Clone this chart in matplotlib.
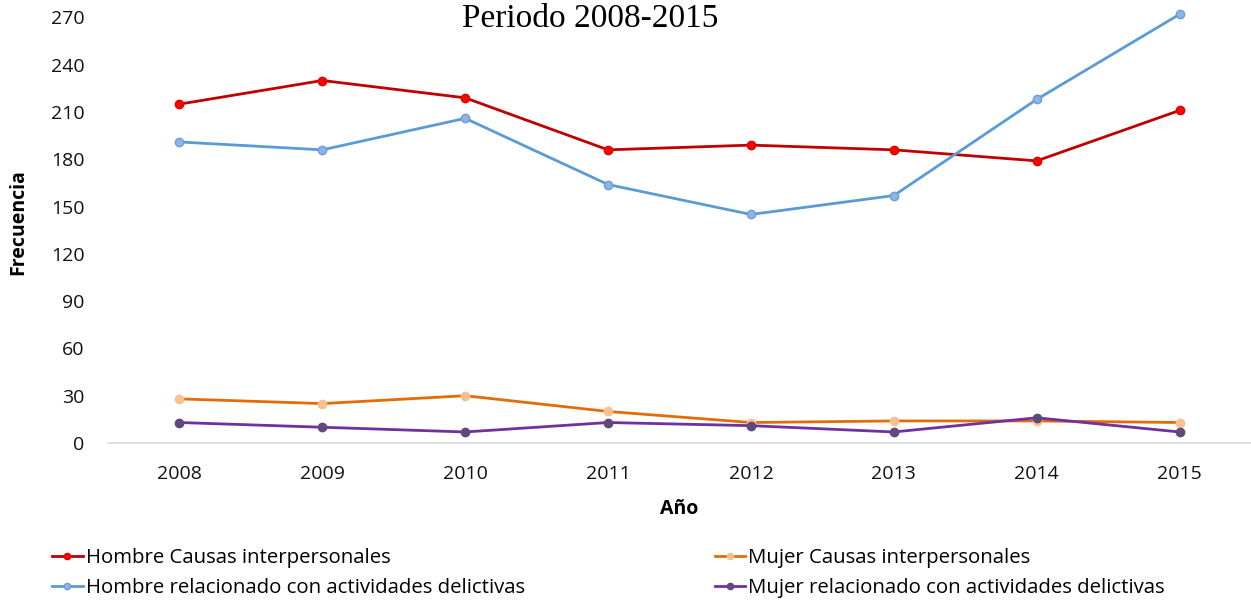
import matplotlib.pyplot as plt

years = ["2008", "2009", "2010", "2011", "2012", "2013", "2014", "2015"]
hombre_inter = [215, 230, 219, 186, 189, 186, 179, 211]
mujer_inter = [28, 25, 30, 20, 13, 14, 14, 13]
hombre_delict = [191, 186, 206, 164, 145, 157, 218, 272]
mujer_delict = [13, 10, 7, 13, 11, 7, 16, 7]
yticks = [0, 30, 60, 90, 120, 150, 180, 210, 240, 270]

plt.rcParams['font.family'] = ['Open Sans', 'DejaVu Sans']

fig = plt.figure(figsize=(12.51, 6), dpi=100)
ax = fig.add_axes([108 / 1251, 1 - 443 / 600, 1 - 108 / 1251, (443 - 8) / 600])

x = range(len(years))
lw = 2.0
ms = 6
l1, = ax.plot(x, hombre_inter, color="#C00000", lw=lw, marker="o", ms=ms,
              mfc="#FF0000", mec="#E00000", label="Hombre Causas interpersonales")
l3, = ax.plot(x, hombre_delict, color="#5B9BD5", lw=lw, marker="o", ms=ms,
              mfc="#8EB4E3", mec="#6A9FD8", label="Hombre relacionado con actividades delictivas")
l2, = ax.plot(x, mujer_inter, color="#E36C09", lw=lw, marker="o", ms=ms,
              mfc="#FAC090", mec="#FAC090", label="Mujer Causas interpersonales")
l4, = ax.plot(x, mujer_delict, color="#7030A0", lw=lw, marker="o", ms=ms,
              mfc="#604A7B", mec="#604A7B", label="Mujer relacionado con actividades delictivas")

ax.set_xlim(-0.5, 7.5)
ax.set_ylim(0, 276)
ax.set_yticks(yticks)
ax.set_xticks(list(x))
ax.set_xticklabels(years)
ax.tick_params(axis="both", length=0, labelsize=14, colors="#111111")
ax.tick_params(axis="x", pad=16)
ax.tick_params(axis="y", pad=17)
for s in ["top", "right", "left"]:
    ax.spines[s].set_visible(False)
ax.spines["bottom"].set_color("#D9D9D9")
ax.spines["bottom"].set_linewidth(1.2)

ax.set_xlabel("Año", fontsize=14, fontweight="bold", va="center")
ax.xaxis.set_label_coords(0.5, -(509 - 443) / 435)
ax.set_ylabel("Frecuencia", fontsize=14, fontweight="bold", va="center")
ax.yaxis.set_label_coords((18 - 108) / 1143, (443 - 222) / 435)

fig.text(590 / 1251, 1 - 19 / 600, "Periodo 2008-2015", ha="center", va="center",
         fontsize=24, family="Liberation Serif")

leg = fig.legend(handles=[l1, l3, l2, l4], loc="upper left", ncol=2,
                 bbox_to_anchor=(0.035, 1 - 540 / 600), frameon=False, fontsize=14.7,
                 handlelength=1.5, handletextpad=0.15, columnspacing=9.3,
                 labelspacing=0.5, borderaxespad=0, markerscale=0.75)

fig.savefig("out.png", dpi=100)
